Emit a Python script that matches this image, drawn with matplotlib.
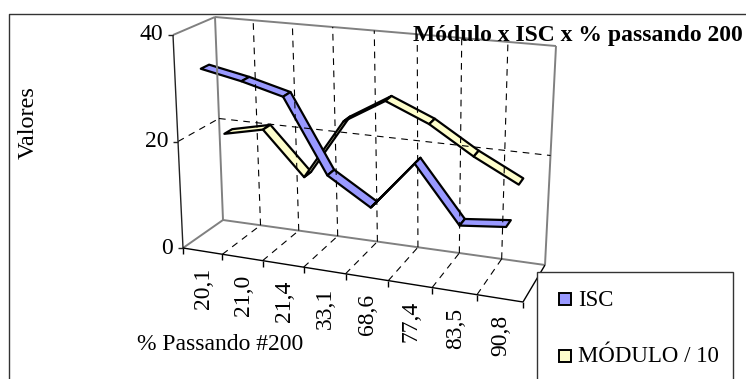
"""Excel style 3-D line chart: Modulo x ISC x % passando 200."""

import numpy as np
import matplotlib
matplotlib.use("Agg")
import matplotlib.pyplot as plt
from matplotlib.patches import Polygon, Rectangle

categories = ["20,1", "21,0", "21,4", "33,1", "68,6", "77,4", "83,5", "90,8"]
isc = [33.5, 32, 30, 16.5, 11.7, 20.7, 10.7, 11.6]
modulo = [19, 20.7, 12.6, 24, 28.7, 25.3, 20.3, 16.2]
value_ticks = [0, 20, 40]

BLUE = "#9999ff"
YELLOW = "#ffffcc"
WALL = "#808080"
SERIF = "Liberation Serif"


def homography(corners):
    # unit square (u, w) -> pixel corners, order: (0,0) (1,0) (1,1) (0,1)
    src = [(0, 0), (1, 0), (1, 1), (0, 1)]
    a, b = [], []
    for (u, w), (x, y) in zip(src, corners):
        a.append([u, w, 1, 0, 0, 0, -u * x, -w * x])
        a.append([0, 0, 0, u, w, 1, -u * y, -w * y])
        b += [x, y]
    h = np.linalg.solve(np.array(a, float), np.array(b, float))
    return np.append(h, 1).reshape(3, 3), np.array(corners, float)


FLOOR = homography([(183, 248), (523, 302), (545, 265), (223, 220)])
CEIL = homography([(173, 35), (535, 73), (556, 46), (215, 17)])


def apply(plane, u, w):
    # half way between true perspective and a plain bilinear map
    h, c = plane
    x, y, s = h @ np.array([u, w, 1.0])
    bil = (1 - w) * ((1 - u) * c[0] + u * c[1]) + w * ((1 - u) * c[3] + u * c[2])
    return 0.5 * np.array([x / s, y / s]) + 0.5 * bil


def proj(cat, val, depth):
    # cat in category slots (0-8), val in chart units, depth 0 front - 1 back
    u = cat / len(categories)
    t = val / value_ticks[-1]
    return (1 - t) * apply(FLOOR, u, depth) + t * apply(CEIL, u, depth)


fig = plt.figure(figsize=(7.46, 3.79), dpi=100)
ax = fig.add_axes([0, 0, 1, 1])
ax.set_xlim(0, 746)
ax.set_ylim(379, 0)
ax.axis("off")


def seg(p, q, **kw):
    ax.plot([p[0], q[0]], [p[1], q[1]], solid_capstyle="butt", **kw)


dash = dict(color="black", lw=0.8, dashes=(6, 5))
n = len(categories)

# chart frame, open on the right and at the bottom
ax.plot([8.5, 8.5, 746], [379, 14, 14], color="#333333", lw=1)

# walls
for a, b in [((0, 0, 1), (0, 40, 1)), ((0, 0, 1), (n, 0, 1)), ((n, 0, 1), (n, 40, 1)),
             ((0, 40, 1), (n, 40, 1)), ((0, 0, 0), (0, 0, 1)), ((0, 40, 0), (0, 40, 1))]:
    seg(proj(*a), proj(*b), color=WALL, lw=1.4)

# gridlines
for i in range(1, n):
    seg(proj(i, 0, 1), proj(i, 40, 1), **dash)
    seg(proj(i, 0, 0), proj(i, 0, 1), **dash)
seg(proj(n, 0, 0), proj(n, 0, 1), color="black", lw=1)
seg(proj(0, 20, 0), proj(0, 20, 1), **dash)
seg(proj(0, 20, 1), proj(n, 20, 1), **dash)

# front axes and ticks
seg(proj(0, 0, 0), proj(0, 40, 0), color="#222222", lw=1)
seg(proj(0, 0, 0), proj(n, 0, 0), color="black", lw=1)
for v in value_ticks:
    p = proj(0, v, 0)
    seg(p, p + [-5, 0], color="#222222", lw=1)
    ax.text(p[0] - 10, p[1], str(v), family=SERIF, fontsize=17, ha="right", va="center")
for i in range(n + 1):
    p = proj(i, 0, 0)
    seg(p, p + [0, 6], color="black", lw=1)
for i, c in enumerate(categories):
    p = proj(i + 0.5, 0, 0)
    ax.text(p[0] + 1, p[1] + 17, c, family=SERIF, fontsize=17, rotation=90, ha="center", va="top")


def ribbon(values, color, z1, z2):
    for i in range(n - 1):
        a, b = values[i], values[i + 1]
        pts = [proj(i + 0.5, a, z1), proj(i + 1.5, b, z1), proj(i + 1.5, b, z2), proj(i + 0.5, a, z2)]
        ax.add_patch(Polygon(pts, closed=True, fc=color, ec="black", lw=1.6, joinstyle="round"))


ribbon(modulo, YELLOW, 0.65, 0.85)
ribbon(isc, BLUE, 0.15, 0.35)

# texts
ax.text(577.5, 35, "Módulo x ISC x % passando 200", family=SERIF, fontsize=17, weight="bold", ha="center", va="center")
ax.text(28, 123, "Valores", family=SERIF, fontsize=17.5, rotation=90, ha="center", va="center")
ax.text(220, 345, "% Passando #200", family=SERIF, fontsize=17, ha="center", va="center")

# legend
ax.add_patch(Rectangle((537, 272), 196, 120, fc="white", ec="#333333", lw=1, zorder=5))
for y, color, label in [(299, BLUE, "ISC"), (356, YELLOW, "MÓDULO / 10")]:
    ax.add_patch(Rectangle((558.5, y - 6), 12, 12, fc=color, ec="black", lw=1.4, zorder=6))
    ax.text(578, y + 1, label, family=SERIF, fontsize=16.5, va="center", zorder=6)

fig.savefig("out.png", dpi=100)
